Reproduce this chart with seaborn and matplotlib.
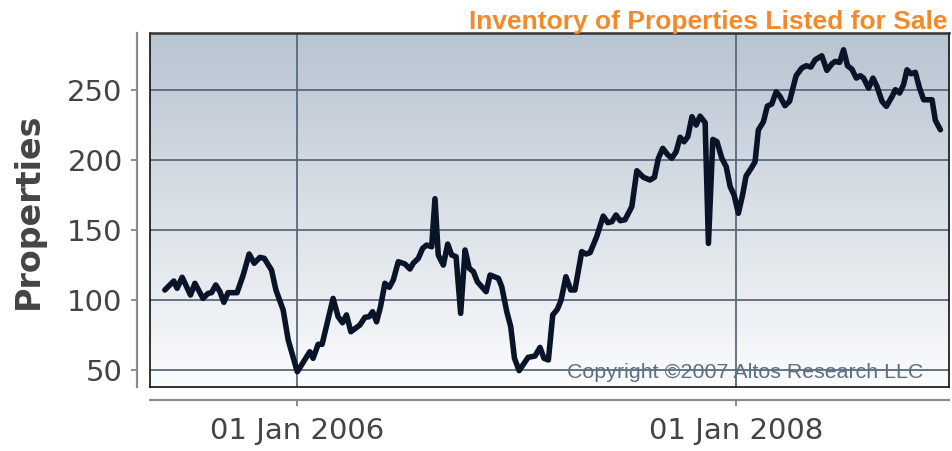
import numpy as np
import pandas as pd
import matplotlib
matplotlib.use("Agg")
import matplotlib.pyplot as plt
import matplotlib.dates as mdates
from matplotlib.colors import LinearSegmentedColormap
import seaborn as sns

# weekly listing counts, x read as decimal years
years = [2005.396, 2005.437, 2005.452, 2005.475, 2005.513, 2005.533, 2005.570, 2005.593,
         2005.609, 2005.628, 2005.647, 2005.665, 2005.684, 2005.725, 2005.753, 2005.780,
         2005.803, 2005.829, 2005.849, 2005.882, 2005.902, 2005.935, 2005.958, 2006.000,
         2006.057, 2006.072, 2006.095, 2006.113, 2006.163, 2006.186, 2006.206, 2006.224,
         2006.244, 2006.285, 2006.308, 2006.327, 2006.343, 2006.361, 2006.379, 2006.399,
         2006.419, 2006.437, 2006.460, 2006.490, 2006.513, 2006.528, 2006.551, 2006.571,
         2006.589, 2006.612, 2006.627, 2006.642, 2006.665, 2006.685, 2006.703, 2006.723,
         2006.744, 2006.764, 2006.783, 2006.802, 2006.820, 2006.860, 2006.878, 2006.916,
         2006.931, 2006.954, 2006.972, 2006.989, 2007.011, 2007.052, 2007.083, 2007.106,
         2007.124, 2007.144, 2007.164, 2007.185, 2007.202, 2007.224, 2007.246, 2007.265,
         2007.296, 2007.316, 2007.334, 2007.364, 2007.394, 2007.415, 2007.433, 2007.452,
         2007.471, 2007.493, 2007.524, 2007.547, 2007.577, 2007.607, 2007.627, 2007.645,
         2007.665, 2007.686, 2007.706, 2007.726, 2007.744, 2007.762, 2007.779, 2007.798,
         2007.817, 2007.835, 2007.858, 2007.873, 2007.893, 2007.912, 2007.934, 2007.954,
         2007.972, 2007.990, 2008.010, 2008.030, 2008.045, 2008.068, 2008.086, 2008.101,
         2008.124, 2008.142, 2008.162, 2008.182, 2008.200, 2008.222, 2008.243, 2008.273,
         2008.299, 2008.319, 2008.340, 2008.360, 2008.390, 2008.413, 2008.436, 2008.451,
         2008.471, 2008.489, 2008.507, 2008.527, 2008.547, 2008.565, 2008.580, 2008.603,
         2008.623, 2008.641, 2008.664, 2008.684, 2008.710, 2008.725, 2008.744, 2008.762,
         2008.778, 2008.796, 2008.816, 2008.835, 2008.854, 2008.892, 2008.907, 2008.930]
properties = [106.8, 113.2, 108.0, 115.9, 103.2, 111.6, 100.8, 104.4,
              104.9, 110.4, 105.6, 98.0, 104.9, 104.9, 117.5, 132.5,
              125.9, 130.1, 129.4, 121.0, 106.8, 92.5, 71.0, 48.4,
              62.7, 58.0, 68.0, 68.0, 100.8, 87.7, 83.4, 89.0,
              77.0, 81.8, 87.3, 87.7, 91.3, 84.1, 94.9, 111.6,
              108.7, 113.9, 127.0, 125.4, 121.8, 125.9, 129.4, 136.6,
              138.9, 137.7, 172.0, 131.8, 124.6, 139.6, 131.8, 130.6,
              90.1, 135.4, 122.3, 119.9, 112.7, 105.6, 117.5, 115.1,
              109.2, 91.3, 80.6, 58.0, 49.2, 58.7, 59.6, 65.8,
              58.0, 56.8, 89.0, 93.0, 99.6, 116.3, 106.8, 106.8,
              134.2, 132.5, 133.5, 144.9, 159.6, 154.9, 155.6, 160.4,
              156.3, 157.0, 166.3, 192.0, 187.3, 185.4, 187.3, 200.9,
              208.0, 203.7, 200.9, 205.6, 215.9, 212.7, 216.3, 230.6,
              224.6, 231.0, 226.3, 140.1, 214.4, 212.7, 200.9, 194.9,
              180.6, 174.6, 161.6, 175.4, 188.2, 193.7, 198.4, 221.1,
              227.0, 238.2, 239.6, 248.4, 245.0, 238.5, 241.6, 259.9,
              265.4, 267.0, 266.1, 271.3, 274.1, 263.7, 268.4, 270.1,
              269.4, 278.4, 267.0, 264.6, 258.2, 259.9, 258.2, 251.0,
              258.2, 252.3, 241.6, 238.0, 245.1, 249.9, 247.5, 253.4,
              264.1, 261.3, 262.3, 251.0, 242.7, 242.7, 228.0, 221.3]
y_ticks = [50, 100, 150, 200, 250]
x_ticks = ['2006-01-01', '2008-01-01']


def to_date(y):
    yr = int(y)
    return pd.Timestamp(year=yr, month=1, day=1) + pd.Timedelta(days=(y - yr) * 365.25)


df = pd.DataFrame({'date': [to_date(y) for y in years], 'properties': properties})

sns.set_style("white")
plt.rcParams['font.family'] = ['DejaVu Sans']

W, H = 953, 451
fig = plt.figure(figsize=(W / 100, H / 100), dpi=100)
rect = [150 / W, 1 - 387 / H, (949 - 150) / W, (387 - 33) / H]
ax = fig.add_axes(rect)

# gradient background of the plot area
bg = LinearSegmentedColormap.from_list('bg', ['#b8c4d1', '#fbfcfd'])
ax.imshow(np.linspace(0, 1, 256).reshape(-1, 1), cmap=bg, aspect='auto',
          extent=[0, 1, 0, 1], transform=ax.transAxes, zorder=0)

sns.lineplot(data=df, x='date', y='properties', ax=ax, color='#0a1428',
             linewidth=4.0, zorder=3)

xlim = (pd.Timestamp('2005-05-01'), pd.Timestamp('2008-12-20'))
ylim = (37.5, 290.4)
ax.set_xlim(xlim)
ax.set_ylim(ylim)
ax.set_xticks([pd.Timestamp(t) for t in x_ticks])
ax.set_yticks(y_ticks)
ax.grid(True, color='#5a6a7b', linewidth=1.3)
ax.tick_params(length=0, labelbottom=False, labelleft=False)
ax.set_xlabel('')
ax.set_ylabel('')
for s in ax.spines.values():
    s.set_color('#111111')
    s.set_linewidth(1.2)
ax.spines['top'].set_color('#333333')
ax.spines['top'].set_linewidth(1.8)

# offset axis lines with ticks and labels
ax2 = fig.add_axes(rect, sharex=ax, sharey=ax)
ax2.patch.set_visible(False)
ax2.grid(False)
for side in ['top', 'right']:
    ax2.spines[side].set_visible(False)
for side in ['left', 'bottom']:
    ax2.spines[side].set_position(('outward', 9.4))
    ax2.spines[side].set_color('#8a8a8a')
    ax2.spines[side].set_linewidth(1.6)
ax2.xaxis.set_major_formatter(mdates.DateFormatter('%d %b %Y'))
ax2.tick_params(axis='both', direction='out', length=4.3, width=1.4,
                bottom=True, left=True, top=False, right=False,
                color='#8a8a8a', labelcolor='#444444', labelsize=21)
ax2.tick_params(axis='y', pad=6)
ax2.tick_params(axis='x', pad=8)
ax2.set_xlim(xlim)
ax2.set_ylim(ylim)

fig.text(28 / W, 1 - 211 / H, 'Properties', rotation=90, ha='center', va='center',
         fontsize=24, fontweight='bold', color='#444444')
fig.text(948 / W, 1 - 29 / H, 'Inventory of Properties Listed for Sale', ha='right',
         va='baseline', fontsize=19, fontweight='bold', color='#f08a2a',
         family='Liberation Sans')
fig.text(923 / W, 1 - 378 / H, 'Copyright \u00a92007 Altos Research LLC', ha='right',
         va='baseline', fontsize=15.4, color='#5f6f82', family='Liberation Sans')

fig.savefig('out.png', dpi=100)
